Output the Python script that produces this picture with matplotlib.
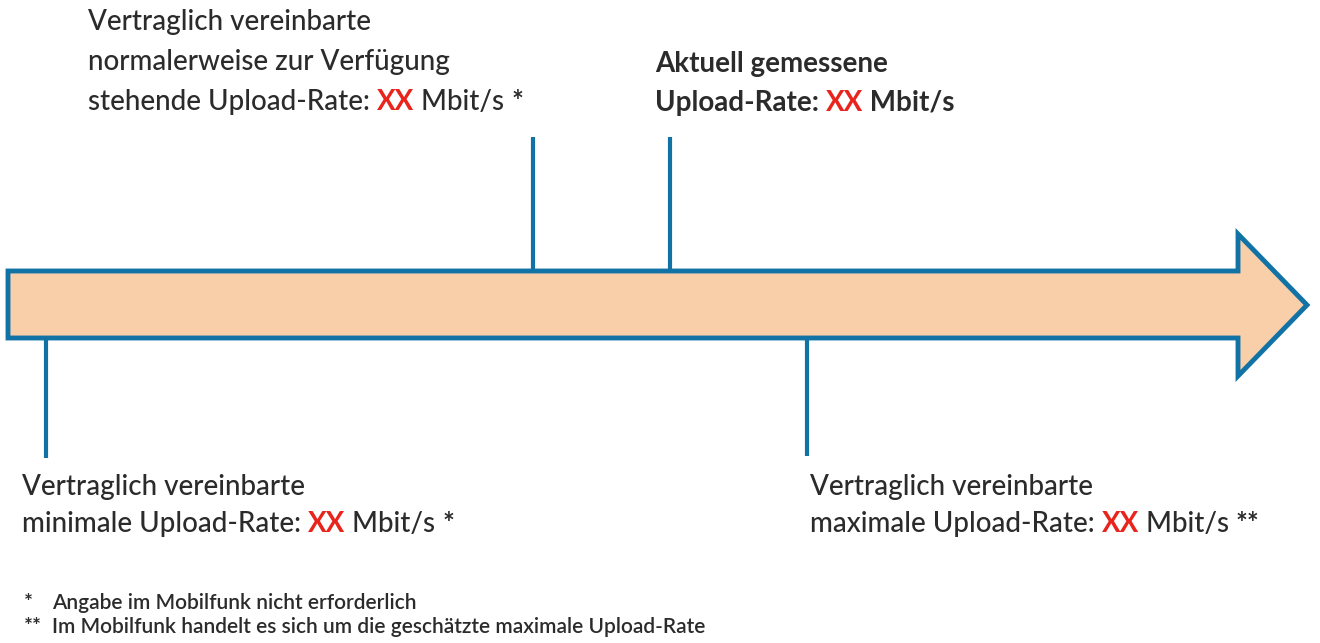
import matplotlib
matplotlib.use("Agg")
import matplotlib.pyplot as plt
from matplotlib.patches import Polygon

W, H = 1320, 643
BLUE = "#1172a6"
FILL = "#f9cfaa"
TEXT = "#2b2b2b"
RED = "#e8241c"

# arrow outline (pixel coordinates)
body_left = 8
body_top, body_bottom = 271, 338
head_base = 1238
head_top, head_bottom = 234, 376
tip_x, tip_y = 1307, 305

# marker lines: x, y_start, y_end
marker_x = [533, 670, 46, 807]
marker_y0 = [137, 137, 338, 338]
marker_y1 = [271, 271, 458, 456]

# label blocks: (x, first baseline y, line gap, lines); each line is a list of (text, bold, red)
labels = [
    (88, 30, 40, [[("Vertraglich vereinbarte", False, False)],
                  [("normalerweise zur Verfügung", False, False)],
                  [("stehende Upload-Rate: ", False, False), ("XX", True, True), (" Mbit/s ", False, False), ("*", True, False)]]),
    (655, 72, 39, [[("Aktuell gemessene", True, False)],
                   [("Upload-Rate: ", True, False), ("XX", True, True), (" Mbit/s", True, False)]]),
    (22, 495, 37, [[("Vertraglich vereinbarte", False, False)],
                   [("minimale Upload-Rate: ", False, False), ("XX", True, True), (" Mbit/s ", False, False), ("*", True, False)]]),
    (810, 495, 37, [[("Vertraglich vereinbarte", False, False)],
                    [("maximale Upload-Rate: ", False, False), ("XX", True, True), (" Mbit/s ", False, False), ("**", True, False)]]),
]

footnote_marks = ["*", "**"]
footnote_texts = ["Angabe im Mobilfunk nicht erforderlich",
                  "Im Mobilfunk handelt es sich um die geschätzte maximale Upload-Rate"]

plt.rcParams["font.family"] = ["Lato", "DejaVu Sans"]

fig = plt.figure(figsize=(W / 100, H / 100), dpi=100)
ax = fig.add_axes([0, 0, 1, 1])
ax.set_xlim(0, W)
ax.set_ylim(H, 0)
ax.axis("off")

arrow = Polygon([(body_left, body_top), (head_base, body_top), (head_base, head_top),
                 (tip_x, tip_y), (head_base, head_bottom), (head_base, body_bottom),
                 (body_left, body_bottom)],
                closed=True, facecolor=FILL, edgecolor=BLUE, linewidth=3.5, joinstyle="miter")
ax.add_patch(arrow)

for x, y0, y1 in zip(marker_x, marker_y0, marker_y1):
    ax.plot([x, x], [y0, y1], color=BLUE, linewidth=3, solid_capstyle="butt")

fig.canvas.draw()
renderer = fig.canvas.get_renderer()
inv = ax.transData.inverted()

for x0, y0, gap, lines in labels:
    for i, segs in enumerate(lines):
        x = x0
        y = y0 + i * gap
        for txt, bold, red in segs:
            t = ax.text(x, y, txt, fontsize=20, fontweight="bold" if bold else "medium",
                        color=RED if red else TEXT, va="baseline", ha="left")
            bb = t.get_window_extent(renderer)
            x = inv.transform((bb.x1, bb.y0))[0]

for i, (mark, txt) in enumerate(zip(footnote_marks, footnote_texts)):
    y = 609 + i * 24
    ax.text(24, y, mark, fontsize=15, fontweight="bold", color=TEXT, va="baseline")
    ax.text(52, y, txt, fontsize=15, fontweight="semibold", color=TEXT, va="baseline")

fig.savefig("out.png", dpi=100)
